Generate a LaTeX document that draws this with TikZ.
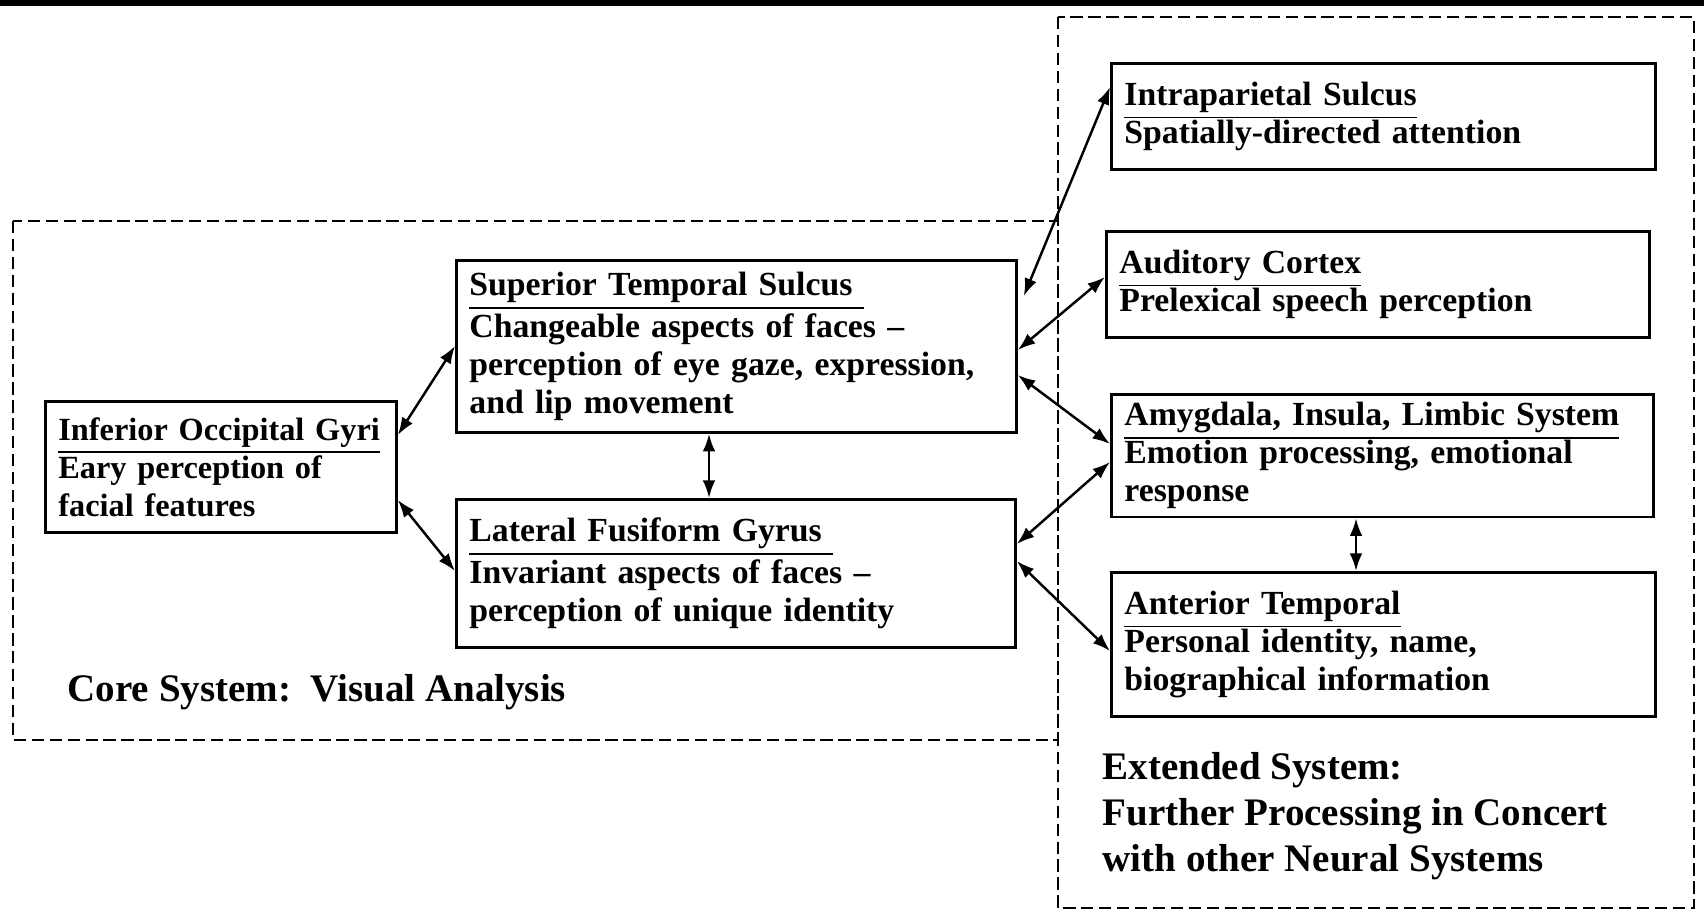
\documentclass[tikz,border=0pt]{standalone}
\usepackage{fontspec}
\setmainfont{Liberation Serif}
\usetikzlibrary{arrows.meta}

\begin{document}
\begin{tikzpicture}[
    region/.style={draw, line width=0.8pt, anchor=north west, align=left,
      inner xsep=0.13cm, inner ysep=0.08cm,
      font=\fontsize{9.6}{10.8}\selectfont\bfseries},
    caption/.style={anchor=north west, align=left, inner sep=0pt,
      font=\fontsize{11.1}{13}\selectfont\bfseries},
    area/.style={line width=0.8pt, dash pattern=on 3.5pt off 1.6pt},
    link/.style={<->, >={Latex[length=5pt,width=3.6pt]}, line width=0.7pt}]
      \useasboundingbox (0,0) rectangle (17.04,-9.21);
      \fill (0,0) rectangle (17.04,-0.06);

      % the two systems
      \draw[area] (0.13,-2.21) rectangle (10.58,-7.40);
      \draw[area] (10.58,-0.17) rectangle (16.94,-9.08);

      % core system
      \node[region, text width=3.25cm, minimum height=1.31cm,
        font=\fontsize{9.2}{10.8}\selectfont\bfseries] (iog) at (0.44,-4.00)
        {\underline{Inferior Occipital Gyri}\\ Eary perception of\\ facial features};
      \node[region, text width=5.34cm, minimum height=1.72cm] (sts) at (4.55,-2.59)
        {\underline{Superior Temporal Sulcus\ }\\ Changeable aspects of faces --\\
         perception of eye gaze, expression,\\ and lip movement};
      \node[region, text width=5.33cm, minimum height=1.48cm] (lfg) at (4.55,-4.98)
        {\underline{Lateral Fusiform Gyrus\ }\\ Invariant aspects of faces --\\
         perception of unique identity};
      \node[caption, anchor=west] (core) at (0.67,-6.92) {Core System:\ \ Visual Analysis};

      % extended system
      \node[region, text width=5.18cm, minimum height=1.06cm] (ips) at (11.10,-0.62)
        {\underline{Intraparietal Sulcus}\\ Spatially-directed attention};
      \node[region, text width=5.17cm, minimum height=1.06cm] (ac) at (11.05,-2.30)
        {\underline{Auditory Cortex}\\ Prelexical speech perception};
      \node[region, text width=5.16cm, minimum height=1.18cm] (amy) at (11.10,-3.93)
        {\underline{Amygdala, Insula, Limbic System}\\ Emotion processing, emotional\\ response};
      \node[region, text width=5.18cm, minimum height=1.44cm] (ant) at (11.10,-5.71)
        {\underline{Anterior Temporal}\\ Personal identity, name,\\ biographical information};
      \node[caption] (ext) at (11.02,-7.52)
        {Extended System:\\ Further Processing in Concert\\ with other Neural Systems};

      \draw[link] ([yshift=-0.35cm]iog.north east) -- ([yshift=-0.87cm]sts.north west);
      \draw[link] ([yshift=-1.00cm]iog.north east) -- ([yshift=-0.73cm]lfg.north west);
      \draw[link] ([xshift=2.54cm]sts.south west) -- ([xshift=2.54cm]lfg.north west);
      \draw[link] ([xshift=0.06cm,yshift=-0.37cm]sts.north east) -- ([yshift=-0.25cm]ips.north west);
      \draw[link] ([yshift=-0.91cm]sts.north east) -- ([yshift=-0.47cm]ac.north west);
      \draw[link] ([yshift=-1.16cm]sts.north east) -- ([yshift=-0.51cm]amy.north west);
      \draw[link] ([yshift=-0.46cm]lfg.north east) -- ([yshift=-0.69cm]amy.north west);
      \draw[link] ([yshift=-0.63cm]lfg.north east) -- ([yshift=-0.80cm]ant.north west);
      \draw[link] ([xshift=2.46cm]amy.south west) -- ([xshift=2.46cm]ant.north west);
    \end{tikzpicture}
\end{document}
